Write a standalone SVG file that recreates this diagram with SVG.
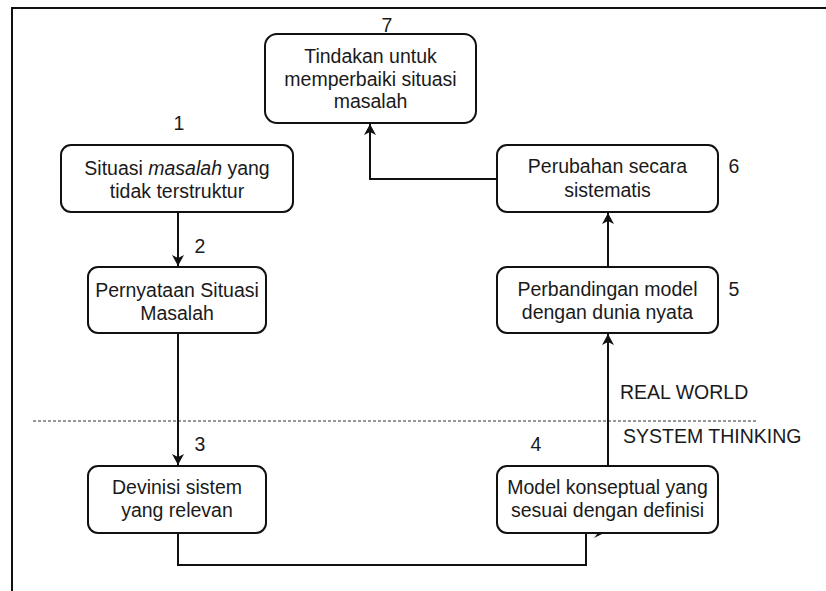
<svg xmlns="http://www.w3.org/2000/svg" width="826" height="591" viewBox="0 0 826 591">
<style>
text{font-family:"Liberation Sans",Arial,sans-serif;font-size:19.5px;fill:#1a1a1a}
.c{text-anchor:middle}
.box{fill:#fff;stroke:#111;stroke-width:2}
.ln{fill:none;stroke:#111;stroke-width:2}
</style>
<defs>
<marker id="ah" viewBox="0 0 11 12" refX="11" refY="6" markerWidth="11" markerHeight="12" markerUnits="userSpaceOnUse" orient="auto">
<path d="M0,0 L11,6 L0,12 L3,6 Z" fill="#111"/>
</marker>
</defs>
<g id="frame">
<path d="M12,591 V8 H826" fill="none" stroke="#111" stroke-width="2"/>
<line x1="33" y1="421" x2="758" y2="421" stroke="#333" stroke-width="1" stroke-dasharray="3 2"/>
</g>
<g id="connectors">
<path class="ln" d="M178,212 V266" marker-end="url(#ah)"/>
<path class="ln" d="M178,333 V465" marker-end="url(#ah)"/>
<path class="ln" d="M178,533 V565 H586 V533"/>
<polygon points="594,538 604,533 598,533" fill="#111"/>
<path class="ln" d="M608,466 V334" marker-end="url(#ah)"/>
<path class="ln" d="M608,267 V213" marker-end="url(#ah)"/>
<path class="ln" d="M497,179 H370 V124" marker-end="url(#ah)"/>
</g>
<g id="node1">
<rect class="box" x="61" y="145" width="232" height="67" rx="10"/>
<text class="c" x="177" y="175">Situasi <tspan font-style="italic">masalah</tspan> yang</text>
<text class="c" x="177" y="198">tidak terstruktur</text>
<text class="c" x="179" y="130">1</text>
</g>
<g id="node2">
<rect class="box" x="88" y="267" width="178" height="66" rx="10"/>
<text class="c" x="177" y="297">Pernyataan Situasi</text>
<text class="c" x="177" y="320">Masalah</text>
<text class="c" x="200" y="253">2</text>
</g>
<g id="node3">
<rect class="box" x="88" y="466" width="178" height="67" rx="10"/>
<text class="c" x="177" y="494">Devinisi sistem</text>
<text class="c" x="177" y="517">yang relevan</text>
<text class="c" x="200" y="451">3</text>
</g>
<g id="node4">
<rect class="box" x="497" y="466" width="221" height="67" rx="10"/>
<text class="c" x="607.5" y="494">Model konseptual yang</text>
<text class="c" x="607.5" y="517">sesuai dengan definisi</text>
<text class="c" x="536" y="451">4</text>
</g>
<g id="node5">
<rect class="box" x="497" y="267" width="221" height="66" rx="10"/>
<text class="c" x="607.5" y="296">Perbandingan model</text>
<text class="c" x="607.5" y="319">dengan dunia nyata</text>
<text class="c" x="734" y="296">5</text>
</g>
<g id="node6">
<rect class="box" x="497" y="145" width="221" height="67" rx="10"/>
<text class="c" x="607.5" y="173">Perubahan secara</text>
<text class="c" x="607.5" y="197">sistematis</text>
<text class="c" x="734" y="173">6</text>
</g>
<g id="node7">
<rect class="box" x="265" y="34" width="211" height="89" rx="12"/>
<text class="c" x="370.5" y="63">Tindakan untuk</text>
<text class="c" x="370.5" y="85.5">memperbaiki situasi</text>
<text class="c" x="370.5" y="108">masalah</text>
<text class="c" x="387" y="32">7</text>
</g>
<g id="zones">
<text x="620" y="399">REAL WORLD</text>
<text x="623" y="443">SYSTEM THINKING</text>
</g>
</svg>
